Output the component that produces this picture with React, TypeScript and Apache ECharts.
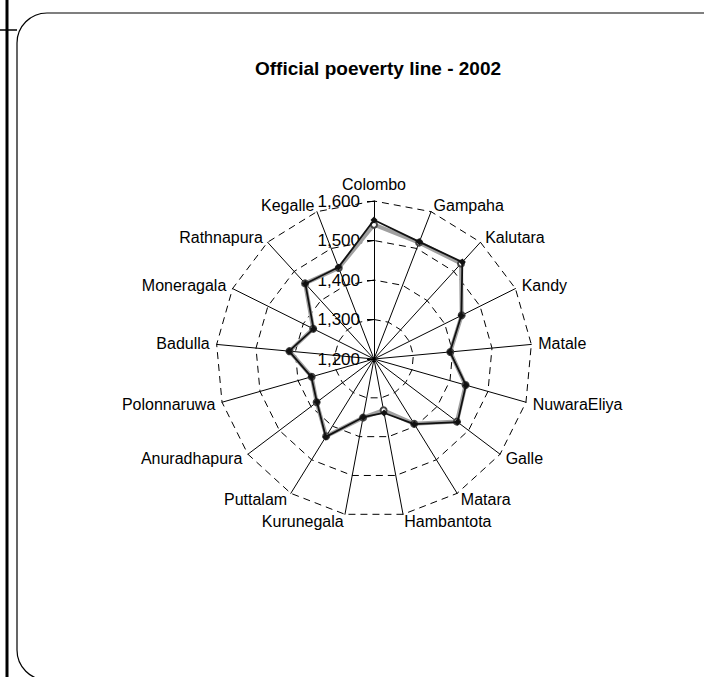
import React, { useEffect, useRef } from "react";
import * as echarts from "echarts";

// Listed clockwise starting from the top axis
const districts = [
  "Colombo", "Gampaha", "Kalutara", "Kandy", "Matale", "NuwaraEliya", "Galle",
  "Matara", "Hambantota", "Kurunegala", "Puttalam", "Anuradhapura", "Polonnaruwa",
  "Badulla", "Moneragala", "Rathnapura", "Kegalle",
];
const lineDark = [1552, 1518, 1532, 1447, 1393, 1442, 1465, 1394, 1339, 1350, 1432, 1381, 1365, 1416, 1371, 1458, 1449];
const lineLight = [1540, 1516, 1527, 1448, 1394, 1441, 1463, 1393, 1332, 1351, 1430, 1382, 1364, 1415, 1372, 1459, 1447];
const scaleMin = 1200;
const scaleMax = 1600;
const title = "Official poeverty line - 2002";

const FONT = "'Liberation Sans', Arial, sans-serif";

// ECharts radar runs counter-clockwise; reorder so the picture runs clockwise.
const order = [0, ...districts.slice(1).map((_, i) => districts.length - 1 - i)];
const reorder = <T,>(arr: T[]) => order.map((i) => arr[i]);

export default function App() {
  const ref = useRef<HTMLDivElement>(null);
  useEffect(() => {
    if (!ref.current) return;
    const chart = echarts.init(ref.current, null, { renderer: "svg" });
    const indicator = reorder(districts).map((name, i) => {
      const base: any = { name, min: scaleMin, max: scaleMax };
      if (i === 0) {
        base.axisLabel = {
          show: true,
          color: "#000",
          fontSize: 17,
          fontFamily: FONT,
          margin: 14,
          formatter: (v: number) => v.toLocaleString("en-US"),
        };
        base.axisTick = { show: true, length: 7, lineStyle: { color: "#000" } };
      }
      return base;
    });
    chart.setOption({
      animation: false,
      backgroundColor: "#fff",
      title: {
        text: title,
        left: 373,
        top: 54,
        textAlign: "center",
        textStyle: { fontSize: 19, fontWeight: "bold", color: "#000", fontFamily: FONT },
      },
      graphic: [
        { type: "line", shape: { x1: 7, y1: 0, x2: 7, y2: 677 }, style: { stroke: "#000", lineWidth: 3 } },
        { type: "line", shape: { x1: 0, y1: 30, x2: 17, y2: 30 }, style: { stroke: "#000", lineWidth: 1.5 } },
        {
          type: "rect",
          shape: { x: 17, y: 13, width: 720, height: 667, r: 30 },
          style: { fill: "none", stroke: "#000", lineWidth: 1.2 },
        },
      ],
      radar: {
        center: [374, 359],
        radius: 158,
        startAngle: 90,
        splitNumber: 4,
        shape: "polygon",
        indicator,
        axisName: { color: "#000", fontSize: 16, fontFamily: FONT },
        nameGap: 7,
        axisLine: { lineStyle: { color: "#000", width: 1 } },
        splitLine: { lineStyle: { color: "#000", type: [7, 5], width: 1 } },
        splitArea: { show: false },
        axisTick: { show: false },
        axisLabel: { show: false },
      },
      series: [
        {
          type: "radar",
          symbol: "emptyCircle",
          symbolSize: 6,
          lineStyle: { color: "#a0a0a0", width: 4 },
          itemStyle: { color: "#444", borderColor: "#444", borderWidth: 1.5 },
          data: [{ value: reorder(lineLight), name: "Light" }],
          z: 2,
        },
        {
          type: "radar",
          symbol: "diamond",
          symbolSize: 7,
          lineStyle: { color: "#111", width: 1.8 },
          itemStyle: { color: "#111" },
          data: [{ value: reorder(lineDark), name: "Dark" }],
          z: 3,
        },
      ],
    });
    return () => chart.dispose();
  }, []);
  return (
    <div
      ref={ref}
      style={{ position: "fixed", left: 0, top: 0, width: 704, height: 677, background: "#fff" }}
    />
  );
}
